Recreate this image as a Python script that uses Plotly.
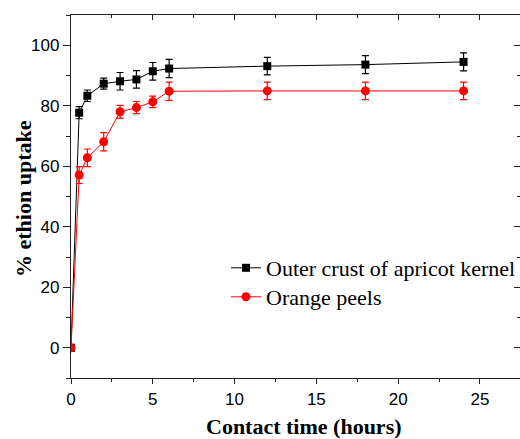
import plotly.graph_objects as go

time_h = [0, 0.5, 1, 2, 3, 4, 5, 6, 12, 18, 24]
apricot = [0, 77.7, 83.3, 87.3, 88.1, 88.7, 91.4, 92.3, 93.1, 93.6, 94.5]
apricot_err = [0, 2.0, 1.9, 1.8, 2.9, 2.9, 2.9, 3.0, 2.9, 3.0, 3.0]
orange = [0, 57.1, 62.8, 68.1, 78.0, 79.4, 81.3, 84.8, 84.9, 84.9, 84.9]
orange_err = [0, 2.8, 2.9, 3.0, 2.1, 2.0, 1.9, 3.0, 2.9, 2.9, 2.9]

names = ["Outer crust of apricot kernel", "Orange peels"]
x_range = [0, 27.45]
y_range = [-10, 110]

fig = go.Figure()
fig.add_trace(go.Scatter(
    x=time_h, y=apricot, name=names[0], mode="lines+markers", legend="legend",
    line=dict(color="black", width=1),
    marker=dict(symbol="square", size=8, color="black"),
    error_y=dict(type="data", array=apricot_err, visible=True, color="black", thickness=1.2, width=3.5),
))
fig.add_trace(go.Scatter(
    x=time_h, y=orange, name=names[1], mode="lines+markers", legend="legend2",
    line=dict(color="#ff0000", width=1),
    marker=dict(symbol="circle", size=9, color="#ff0000"),
    error_y=dict(type="data", array=orange_err, visible=True, color="#ff0000", thickness=1.2, width=3.5),
))
# helper empty trace so mirror axes render
fig.add_trace(go.Scatter(x=[], y=[], xaxis="x2", yaxis="y2", showlegend=False))

tickfont = dict(family="Liberation Sans, Arial", size=17, color="black")
axcol = "#222"
legfont = dict(family="Liberation Serif, Times New Roman", size=22, color="black")

PL, PR, PT, PB = 71, 520, 15, 378
pw, ph = PR - PL, PB - PT

def px_x(v):
    return (v - PL) / pw

def px_y(v):
    return (PB - v) / ph

fig.update_layout(
    width=520, height=439,
    margin=dict(l=PL, r=520 - PR, t=PT, b=439 - PB, autoexpand=False),
    paper_bgcolor="white", plot_bgcolor="white",
    showlegend=True,
    legend=dict(x=px_x(226), y=px_y(268), xanchor="left", yanchor="middle",
                bgcolor="rgba(0,0,0,0)", font=legfont, borderwidth=0),
    legend2=dict(x=px_x(226), y=px_y(297), xanchor="left", yanchor="middle",
                 bgcolor="rgba(0,0,0,0)", font=legfont, borderwidth=0),
    xaxis=dict(
        range=x_range, dtick=5, tick0=0, showgrid=False, zeroline=False, automargin=False,
        showline=True, linecolor=axcol, linewidth=1.3,
        ticks="outside", ticklen=5, tickwidth=1.2, tickcolor=axcol,
        minor=dict(ticks="outside", ticklen=3, dtick=2.5, tick0=0, tickcolor=axcol, tickwidth=1.2),
        tickfont=tickfont,
    ),
    yaxis=dict(
        range=y_range, dtick=20, tick0=0, showgrid=False, zeroline=False, automargin=False,
        showline=True, linecolor=axcol, linewidth=1.3,
        ticks="outside", ticklen=7, tickwidth=1.2, tickcolor=axcol,
        minor=dict(ticks="outside", ticklen=4, dtick=10, tick0=0, tickcolor=axcol, tickwidth=1.2),
        tickfont=tickfont,
    ),
    xaxis2=dict(
        overlaying="x", side="top", range=x_range, dtick=5, tick0=0, automargin=False,
        showgrid=False, zeroline=False, showticklabels=False,
        showline=True, linecolor=axcol, linewidth=1.3,
        ticks="inside", ticklen=5, tickwidth=1.2, tickcolor=axcol,
        minor=dict(ticks="inside", ticklen=3, dtick=2.5, tick0=0, tickcolor=axcol, tickwidth=1.2),
    ),
    yaxis2=dict(
        overlaying="y", side="right", range=y_range, dtick=20, tick0=0, automargin=False,
        showgrid=False, zeroline=False, showticklabels=False,
        showline=True, linecolor=axcol, linewidth=1.3,
        ticks="inside", ticklen=6, tickwidth=1.2, tickcolor=axcol,
        minor=dict(ticks="inside", ticklen=3, dtick=10, tick0=0, tickcolor=axcol, tickwidth=1.2),
    ),
    annotations=[
        dict(text="<b>Contact time (hours)</b>", xref="paper", yref="paper",
             x=px_x(304), y=px_y(427), xanchor="center", yanchor="middle",
             showarrow=False, font=dict(family="Liberation Serif, Times New Roman", size=22, color="black")),
        dict(text="<b>% ethion uptake</b>", xref="paper", yref="paper",
             x=px_x(23), y=px_y(199), xanchor="center", yanchor="middle",
             textangle=-90, showarrow=False,
             font=dict(family="Liberation Serif, Times New Roman", size=22, color="black")),
    ],
)

fig.write_html("out.html", config={"displayModeBar": False},
               post_script="document.body.style.margin='0px';document.body.style.overflow='hidden';")
